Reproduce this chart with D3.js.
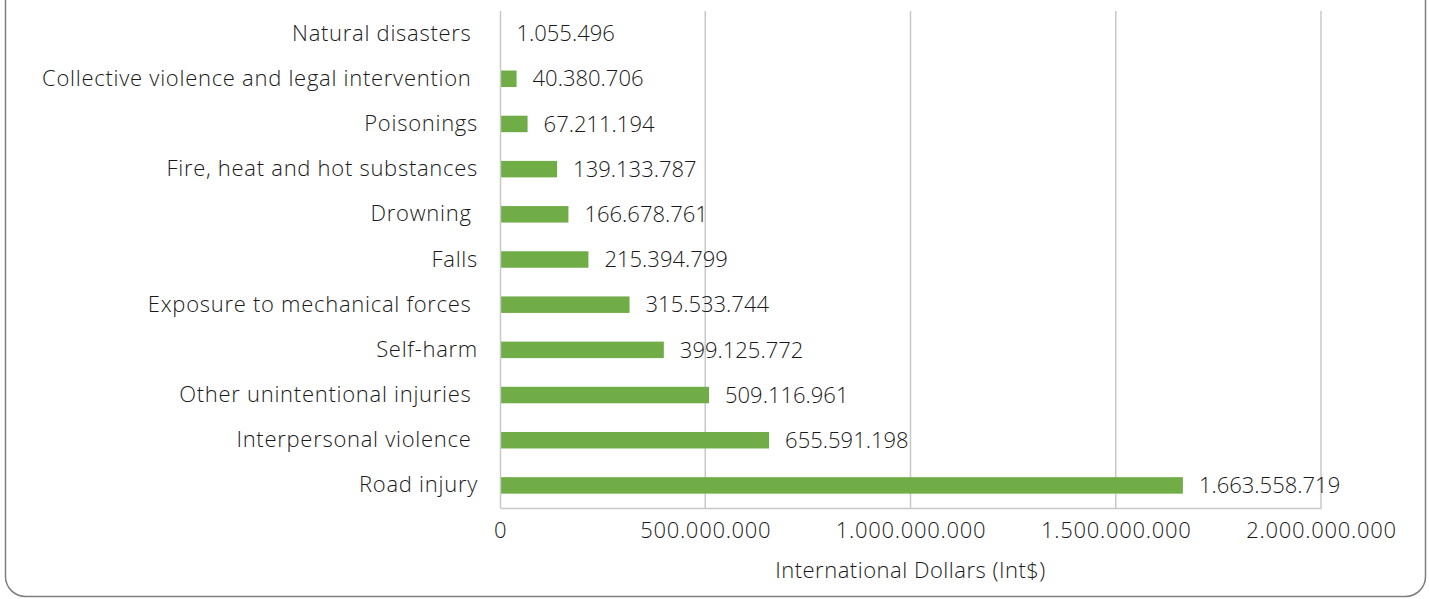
<!DOCTYPE html>
<html>
<head>
<meta charset="utf-8">
<script src="https://cdn.jsdelivr.net/npm/d3@7"></script>
<style>
  html, body { margin: 0; padding: 0; background: #fff; }
  svg { display: block; }
  text { font-family: "Open Sans", "DejaVu Sans", sans-serif; font-weight: 300; fill: #1a1a1a; }
</style>
</head>
<body>
<svg id="chart" width="1429" height="599"></svg>
<script>
// Injury categories, top to bottom
const categories = [
  "Natural disasters ",
  "Collective violence and legal intervention ",
  "Poisonings",
  "Fire, heat and hot substances",
  "Drowning ",
  "Falls",
  "Exposure to mechanical forces ",
  "Self-harm",
  "Other unintentional injuries ",
  "Interpersonal violence ",
  "Road injury"
];
// Cost per category, International Dollars
const costs = [
  1055496,
  40380706,
  67211194,
  139133787,
  166678761,
  215394799,
  315533744,
  399125772,
  509116961,
  655591198,
  1663558719
];
const xTicks = [0, 500000000, 1000000000, 1500000000, 2000000000];
const axisTitle = "International Dollars (Int$)";

const svg = d3.select("#chart");
const plot = { left: 500, right: 1321, top: 11, bottom: 508 };
const green = "#70AD47";
const fontSize = 22;

// Rounded frame around the chart
svg.append("rect")
  .attr("x", 5.5).attr("y", -30)
  .attr("width", 1420).attr("height", 626.5)
  .attr("rx", 20).attr("ry", 20)
  .attr("fill", "none").attr("stroke", "#7f7f7f").attr("stroke-width", 1.5);

const x = d3.scaleLinear().domain([0, 2000000000]).range([plot.left, plot.right]);
const y = d3.scaleBand().domain(categories).range([plot.top, plot.bottom]).paddingInner(0.635).paddingOuter(0.3175);

const fmt = v => d3.format(",")(v).replace(/,/g, ".");

// Vertical gridlines
svg.append("g")
  .selectAll("line")
  .data(xTicks.slice(1))
  .join("line")
  .attr("x1", d => x(d)).attr("x2", d => x(d))
  .attr("y1", plot.top).attr("y2", plot.bottom)
  .attr("stroke", "#c8c8c8").attr("stroke-width", 1.5);

// Bars
svg.append("g")
  .selectAll("rect")
  .data(costs)
  .join("rect")
  .attr("x", x(0))
  .attr("y", (d, i) => y(categories[i]))
  .attr("width", d => x(d) - x(0))
  .attr("height", y.bandwidth())
  .attr("fill", green);

// Value labels
svg.append("g")
  .selectAll("text")
  .data(costs)
  .join("text")
  .attr("x", d => x(d) + 16)
  .attr("y", (d, i) => y(categories[i]) + y.bandwidth() / 2)
  .attr("dy", "0.35em")
  .attr("font-size", fontSize)
  .text(d => fmt(d));

// Category axis
const yAxis = svg.append("g")
  .attr("transform", `translate(${plot.left},0)`)
  .call(d3.axisLeft(y).tickSize(0).tickPadding(22));
yAxis.select(".domain").attr("stroke", "#c8c8c8").attr("stroke-width", 1.5)
  .attr("d", `M0.5,${plot.top}V${plot.bottom}`);
yAxis.selectAll("text")
  .attr("font-size", fontSize)
  .attr("letter-spacing", 0.72)
  .style("white-space", "pre")
  .attr("fill", null);

// Value axis
const xAxis = svg.append("g")
  .attr("transform", `translate(0,${plot.bottom})`)
  .call(d3.axisBottom(x).tickValues(xTicks).tickSize(0).tickPadding(14).tickFormat(fmt));
xAxis.select(".domain").attr("stroke", "#c8c8c8").attr("stroke-width", 1.5);
xAxis.selectAll("text")
  .attr("font-size", fontSize)
  .attr("letter-spacing", 0.7)
  .attr("fill", null);
svg.selectAll(".tick line").remove();
svg.selectAll("g").attr("font-family", null).attr("font-size", null);

// Axis title
svg.append("text")
  .attr("x", (plot.left + plot.right) / 2)
  .attr("y", 578)
  .attr("text-anchor", "middle")
  .attr("font-size", fontSize)
  .attr("letter-spacing", 0.5)
  .text(axisTitle);
</script>
</body>
</html>
